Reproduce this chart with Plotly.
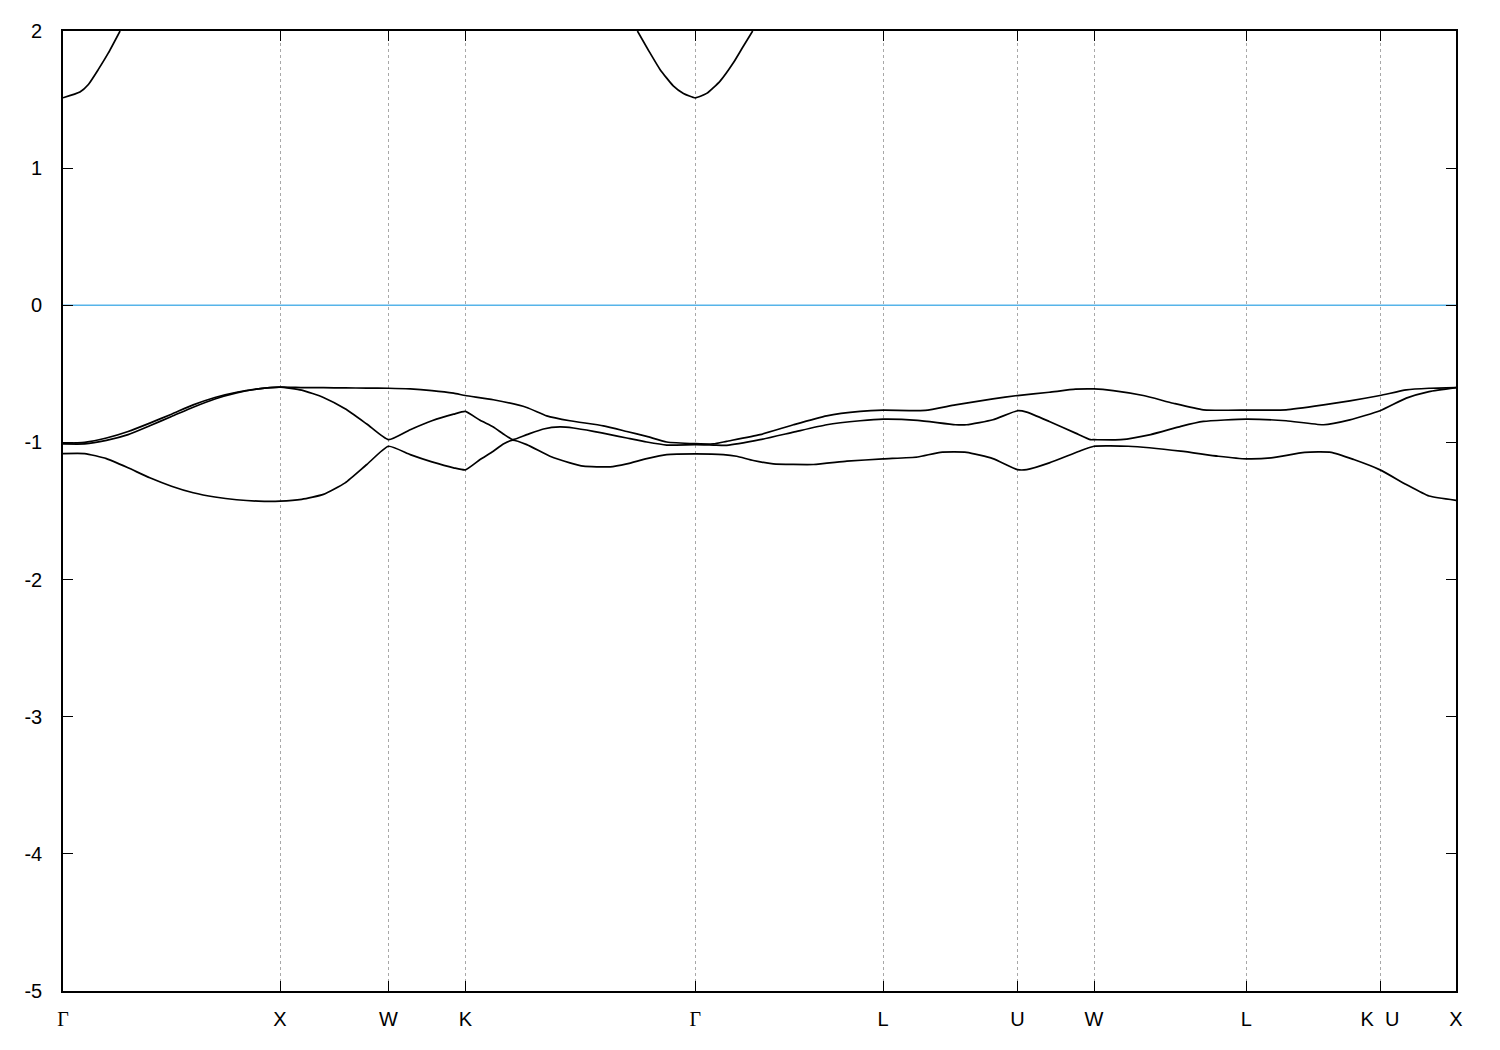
import plotly.graph_objects as go

# High-symmetry points along the path
tick_k = [0.0, 1.0, 1.5, 1.854, 2.914, 3.779, 4.398, 4.751, 5.453, 6.069, 6.419]
tick_labels = ["Γ", "X", "W", "K", "Γ", "L", "U", "W", "L", "K\u00a0\u00a0U", "X"]

# Energy axis ticks
y_ticks = [2, 1, 0, -1, -2, -3, -4, -5]
y_tick_labels = ["2", "1", "0", "-1", "-2", "-3", "-4", "-5"]

# Valence bands
top_k = [0, 0.1, 0.2, 0.3, 0.4, 0.5, 0.6, 0.7, 0.8, 0.9, 1.0, 1.1, 1.2, 1.3, 1.4, 1.5,
         1.6, 1.7, 1.8, 1.854, 1.983, 2.137, 2.229, 2.336, 2.490, 2.598, 2.690, 2.782, 2.914,
         2.997, 3.058, 3.212, 3.366, 3.519, 3.673, 3.779, 3.973, 4.112, 4.285, 4.398,
         4.545, 4.666, 4.751, 4.839, 4.978, 5.116, 5.255, 5.453, 5.636, 5.809, 5.930, 6.069,
         6.190, 6.295, 6.419]
top_e = [-1.005, -0.999, -0.968, -0.920, -0.859, -0.794, -0.726, -0.672, -0.634, -0.610, -0.597,
         -0.600, -0.601, -0.602, -0.604, -0.605, -0.610, -0.622, -0.641, -0.658,
         -0.689, -0.745, -0.806, -0.842, -0.879, -0.920, -0.956, -0.997, -1.009,
         -1.011, -0.992, -0.943, -0.871, -0.806, -0.774, -0.765, -0.767, -0.726, -0.682, -0.658,
         -0.634, -0.612, -0.610, -0.622, -0.658, -0.714, -0.762, -0.765, -0.762, -0.726, -0.697,
         -0.658, -0.617, -0.605, -0.600]

mid_k = [0, 0.1, 0.2, 0.3, 0.4, 0.5, 0.6, 0.7, 0.8, 0.9, 1.0, 1.1, 1.2, 1.3, 1.4, 1.5,
         1.6, 1.7, 1.8, 1.854, 1.922, 1.983, 2.029, 2.072, 2.137, 2.214, 2.290, 2.352, 2.444,
         2.521, 2.598, 2.690, 2.782, 2.914, 2.997, 3.058, 3.212, 3.366, 3.519, 3.673, 3.779,
         3.938, 4.112, 4.164, 4.285, 4.398, 4.441, 4.545, 4.666, 4.735, 4.751, 4.874, 5.012,
         5.151, 5.255, 5.453, 5.636, 5.809, 5.930, 6.069, 6.190, 6.295, 6.419]
mid_e = [-1.011, -1.011, -0.985, -0.943, -0.878, -0.811, -0.743, -0.683, -0.639, -0.610, -0.597,
         -0.619, -0.672, -0.755, -0.866, -0.980, -0.907, -0.842, -0.794, -0.774,
         -0.839, -0.887, -0.938, -0.979, -0.943, -0.902, -0.887, -0.895, -0.919, -0.943, -0.968,
         -0.997, -1.019, -1.016, -1.019, -1.021, -0.980, -0.925, -0.871, -0.842, -0.830,
         -0.839, -0.871, -0.871, -0.835, -0.769, -0.779, -0.847, -0.932, -0.980, -0.980,
         -0.980, -0.943, -0.883, -0.847, -0.830, -0.842, -0.871, -0.835, -0.769,
         -0.677, -0.629, -0.600]

low_k = [0, 0.1, 0.2, 0.3, 0.4, 0.5, 0.6, 0.7, 0.8, 0.9, 1.0, 1.1, 1.2, 1.3, 1.4, 1.5,
         1.6, 1.7, 1.8, 1.854, 1.922, 1.983, 2.029, 2.072, 2.137, 2.244, 2.336, 2.398, 2.521,
         2.598, 2.690, 2.782, 2.914, 3.043, 3.104, 3.181, 3.273, 3.458, 3.612, 3.779,
         3.938, 4.043, 4.164, 4.285, 4.398, 4.441, 4.545, 4.683, 4.751, 4.908, 5.151, 5.324,
         5.453, 5.567, 5.722, 5.844, 5.948, 6.069, 6.190, 6.295, 6.419]
low_e = [-1.081, -1.081, -1.118, -1.185, -1.258, -1.319, -1.367, -1.398, -1.418, -1.428, -1.428,
         -1.415, -1.379, -1.295, -1.161, -1.028, -1.089, -1.142, -1.185, -1.200,
         -1.125, -1.064, -1.011, -0.984, -1.016, -1.101, -1.149, -1.173, -1.178, -1.156, -1.118,
         -1.089, -1.084, -1.089, -1.101, -1.132, -1.156, -1.161, -1.137, -1.120,
         -1.106, -1.072, -1.072, -1.118, -1.198, -1.198, -1.149, -1.064, -1.028, -1.028,
         -1.064, -1.101, -1.120, -1.113, -1.072, -1.072, -1.125, -1.200, -1.307, -1.391, -1.422]

# Conduction band (visible only near Γ)
cond_k = [0, 0.078, 0.117, 0.163, 0.209, 0.263, None,
          2.647, 2.705, 2.751, 2.812, 2.859, 2.914, 2.966, 3.028, 3.089, 3.135, 3.178]
cond_e = [1.513, 1.555, 1.61, 1.72, 1.84, 2.0, None,
          2.0, 1.84, 1.72, 1.60, 1.545, 1.513, 1.545, 1.635, 1.768, 1.889, 2.0]

fermi_level = 0.0

fig = go.Figure()

line_style = dict(color="black", width=1.7, shape="spline", smoothing=0.5)
for kk, ee in [(top_k, top_e), (mid_k, mid_e), (low_k, low_e), (cond_k, cond_e)]:
    fig.add_trace(go.Scatter(x=kk, y=ee, mode="lines", line=line_style,
                             showlegend=False, connectgaps=False, hoverinfo="skip"))

fig.add_trace(go.Scatter(x=[tick_k[0], tick_k[-1]], y=[fermi_level, fermi_level],
                         mode="lines", line=dict(color="#56b4e9", width=1.6),
                         showlegend=False, hoverinfo="skip"))

def fmt(lbl):
    if lbl == "Γ":
        return '<span style="font-family:Liberation Serif">Γ</span>'
    return lbl

fig.update_layout(
    width=1500, height=1050,
    margin=dict(l=55, r=52, t=19, b=67),
    paper_bgcolor="white", plot_bgcolor="white",
    font=dict(family="Liberation Sans, Arial, sans-serif", size=20, color="black"),
    showlegend=False,
)
fig.update_xaxes(
    range=[tick_k[0], tick_k[-1]],
    tickmode="array", tickvals=tick_k, ticktext=[fmt(t) for t in tick_labels],
    ticks="inside", ticklen=10, tickwidth=1.2, tickcolor="black",
    showline=True, linecolor="black", linewidth=1.6, mirror="ticks",
    showgrid=True, gridcolor="#a8a8a8", gridwidth=1, griddash="3px,3px",
    zeroline=False, ticklabelstandoff=9,
)
fig.update_yaxes(
    range=[-5, 2],
    tickmode="array", tickvals=y_ticks, ticktext=y_tick_labels,
    ticks="inside", ticklen=10, tickwidth=1.2, tickcolor="black",
    showline=True, linecolor="black", linewidth=1.6, mirror="ticks",
    showgrid=False, zeroline=False, ticklabelstandoff=15,
)

fig.write_html("out.html")
